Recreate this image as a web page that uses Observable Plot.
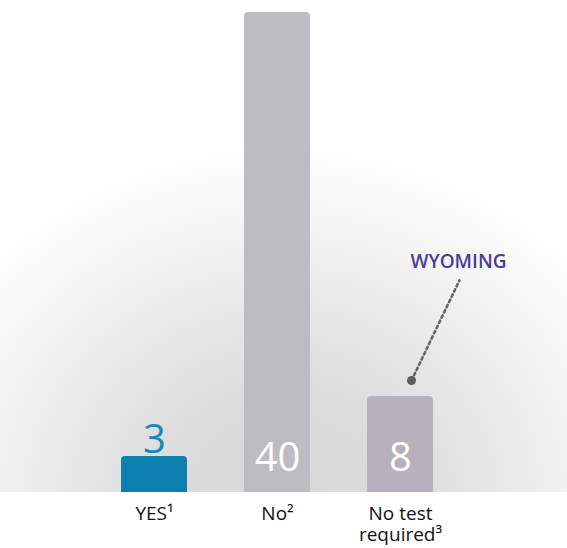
<!DOCTYPE html>
<html>
<head>
<meta charset="utf-8">
<script src="https://cdn.jsdelivr.net/npm/d3@7"></script>
<script src="https://cdn.jsdelivr.net/npm/@observablehq/plot@0.6"></script>
<style>
  html, body { margin: 0; padding: 0; background: #fff; }
  #chart svg { display: block; }
</style>
</head>
<body>
<div id="chart"></div>
<script>
// Data
const categories = ["YES¹", "No²", "No test\nrequired³"];
const values = [3, 40, 8];
const barColors = ["#0b80ae", "#bdbcc1", "#b6b1bd"];
const labelColors = ["#1689b8", "#ffffff", "#ffffff"];
const annotationCategory = "No test\nrequired³";
const annotationText = "WYOMING";

const data = categories.map((c, i) => ({category: c, value: values[i], color: barColors[i], labelColor: labelColors[i]}));
const ann = data.filter(d => d.category === annotationCategory);
const font = "'Open Sans', 'Noto Sans', sans-serif";

const plot = Plot.plot({
  width: 567,
  height: 548,
  marginTop: 12,
  marginBottom: 56,
  marginLeft: 62.5,
  marginRight: 75.5,
  style: {
    fontFamily: font,
    background: "radial-gradient(ellipse 400px 360px at 283px 500px, #d8d8d8 0%, #dcdcdc 30%, #e8e8e8 55%, #f5f5f5 78%, #ffffff 100%) no-repeat",
    backgroundSize: "567px 492px",
    color: "#111"
  },
  x: {domain: categories, padding: 0.46, label: null, axis: null},
  y: {domain: [0, 40], axis: null},
  marks: [
    Plot.barY(data, {x: "category", y: "value", fill: "color", ry1: 4}),
    Plot.text(data.filter(d => d.value < 5), {
      x: "category", y: "value", text: d => String(d.value), fill: "labelColor",
      fontSize: 40, lineAnchor: "bottom", dy: -4
    }),
    Plot.text(data.filter(d => d.value >= 5), {
      x: "category", text: d => String(d.value), fill: "labelColor",
      frameAnchor: "bottom", fontSize: 40, lineAnchor: "bottom", dy: -22
    }),
    Plot.text(data, {
      x: "category", text: "category", frameAnchor: "bottom",
      lineAnchor: "top", dy: 12, fontSize: 19, lineHeight: 1.12, fill: "#111"
    }),
    Plot.vector(ann, {
      x: "category", y: "value", dx: 11, dy: -16,
      length: 111, rotate: 25.6, anchor: "start",
      shape: {draw(context, l) { context.moveTo(0, 0); context.lineTo(0, -l); }},
      stroke: "#666", strokeWidth: 2.6, strokeDasharray: "2.6,3.2"
    }),
    Plot.dot(ann, {x: "category", y: "value", dx: 11, dy: -16, r: 4.5, fill: "#5f5f5f"}),
    Plot.text(ann, {
      x: "category", y: "value", dx: 58, dy: -135, text: () => annotationText,
      fill: "#4b3a97", fontSize: 19, fontWeight: 600, lineAnchor: "middle"
    })
  ]
});
document.getElementById("chart").append(plot);
</script>
</body>
</html>
